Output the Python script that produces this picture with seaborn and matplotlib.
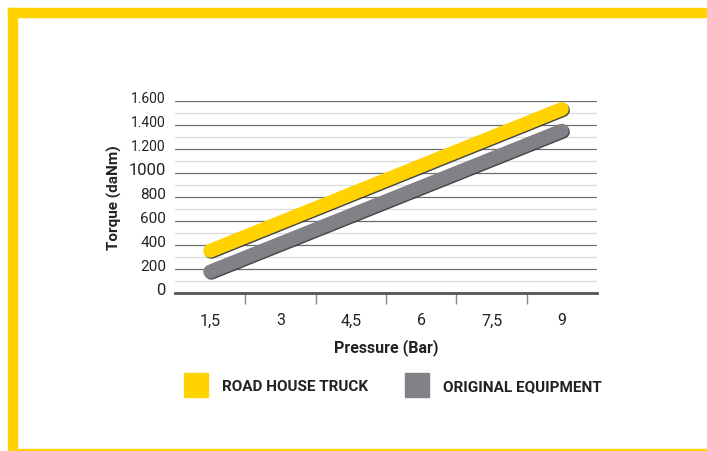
import numpy as np
import pandas as pd
import matplotlib
matplotlib.use('Agg')
import matplotlib.pyplot as plt
import matplotlib.patheffects as pe
from matplotlib.patches import Rectangle
from matplotlib.lines import Line2D
import seaborn as sns

# data
pressure = [1.5, 9.0]
road_house = [352, 1533]
original = [178, 1353]
series_names = ['ROAD HOUSE TRUCK', 'ORIGINAL EQUIPMENT']
x_labels = ['1,5', '3', '4,5', '6', '7,5', '9']
y_labels = ['0', '200', '400', '600', '800', '1000', '1.200', '1.400', '1.600']

YELLOW = '#FFD200'
GREY = '#808288'

df = pd.DataFrame({
    'Pressure': pressure * 2,
    'Torque': road_house + original,
    'Series': [series_names[0]] * 2 + [series_names[1]] * 2,
})

sns.set_style('white')
plt.rcParams['font.family'] = ['Roboto', 'DejaVu Sans']

fig = plt.figure(figsize=(7.07, 4.52), dpi=100)
ax = fig.add_axes([175 / 707, 1 - 294 / 452, 422 / 707, 192 / 452])

sns.lineplot(data=df, x='Pressure', y='Torque', hue='Series',
             palette=[YELLOW, GREY], linewidth=10, legend=False, ax=ax,
             solid_capstyle='round')
for ln in ax.get_lines():
    ln.set_path_effects([pe.SimpleLineShadow(offset=(0.8, -0.8), shadow_color='#333333', alpha=0.9),
                         pe.Normal()])
    ln.set_zorder(5)

ax.set_xlim(0.75, 9.75)
ax.set_ylim(0, 1600)

# y grid
ax.set_yticks(np.arange(0, 1601, 200))
ax.set_yticks(np.arange(100, 1600, 200), minor=True)
ax.set_yticklabels(y_labels)
ax.grid(axis='y', which='major', color='#6e6e6e', linewidth=0.9)
ax.grid(axis='y', which='minor', color='#dddddd', linewidth=1.0)
ax.tick_params(axis='y', which='both', length=0, pad=6.5, labelsize=10.5, labelcolor='#222222')
sizes = {'0': 12, '1000': 12, '1.200': 10, '1.400': 10, '1.600': 10}
for lab in ax.get_yticklabels():
    lab.set_fontsize(sizes.get(lab.get_text(), 11))
    lab.set_verticalalignment('bottom')
    lab.set_transform(lab.get_transform() + matplotlib.transforms.ScaledTranslation(0, -3 / 72, fig.dpi_scale_trans))

# x ticks: labels at 1.5 steps, tick marks between
ax.set_xticks(np.arange(1.5, 9.01, 1.5))
ax.set_xticklabels(x_labels)
ax.set_xticks([1.5, 2.25, 3.75, 5.25, 6.75, 8.25, 9.0], minor=True)
ax.tick_params(axis='x', which='major', length=0, pad=14, labelsize=11.5, labelcolor='#222222')
ax.tick_params(axis='x', which='minor', length=8, width=1, color='#888888', direction='out', bottom=True)

for s in ['top', 'right', 'left']:
    ax.spines[s].set_visible(False)
ax.spines['bottom'].set_color('#555555')
ax.spines['bottom'].set_linewidth(2)

ax.set_xlabel('Pressure (Bar)', fontsize=11.5, fontweight='bold', color='#222222', labelpad=8)
ax.set_ylabel('Torque (daNm)', fontsize=11, fontweight='bold', color='#222222')
ax.yaxis.set_label_coords(-0.125, 0.5)

# legend
handles = [Line2D([], [], marker='s', linestyle='', markersize=17, color=c) for c in [YELLOW, GREY]]
leg = fig.legend(handles, series_names, loc='center', bbox_to_anchor=(394 / 707, 1 - 387 / 452),
                 ncol=2, frameon=False, handlelength=1.2, handletextpad=1.1, columnspacing=2.6,
                 prop={'weight': 'bold', 'size': 11})
for t in leg.get_texts():
    t.set_color('#222222')

# yellow frame
fig.patches.append(Rectangle((8, 452 - 18), 699, 9, transform=None, color=YELLOW, zorder=0))
fig.patches.append(Rectangle((8, 0), 9, 443, transform=None, color=YELLOW, zorder=0))
fig.patches.append(Rectangle((17, 0), 690, 2, transform=None, color=YELLOW, zorder=0))

fig.savefig('out.png', dpi=100)
